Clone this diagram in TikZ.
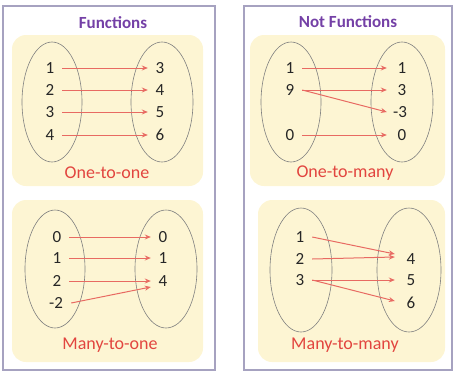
\documentclass[tikz,border=0pt]{standalone}
\usepackage{fontspec}
\setmainfont{Carlito}
\usepackage{xcolor}
\definecolor{cFrame}{HTML}{A6A2C0}
\definecolor{cPanel}{HTML}{FDF5D3}
\definecolor{cTitle}{HTML}{7440A6}
\definecolor{cLabel}{HTML}{E2453F}
\definecolor{cArrow}{HTML}{E86A62}
\definecolor{cSet}{HTML}{7F7F7F}
\definecolor{cNum}{HTML}{262626}
\usepackage{tikz}
\usetikzlibrary{arrows.meta,shapes.geometric}
\tikzset{
  frame-box/.style={draw=cFrame,line width=1.2pt},
  panel-box/.style={fill=cPanel,rounded corners=14pt},
  set-oval/.style={draw=cSet,line width=0.6pt,ellipse,inner sep=0pt},
  node-num/.style={text=cNum,minimum width=24pt,inner sep=0pt,
    font=\fontsize{17}{19}\selectfont},
  node-title/.style={text=cTitle,font=\fontsize{17}{20}\selectfont\bfseries},
  node-kind/.style={text=cLabel,font=\fontsize{18}{21}\selectfont},
  arrow/.style={-{Stealth[length=6pt,width=5pt]},line width=1pt,draw=cArrow},
}
\begin{document}
\begin{tikzpicture}[x=1pt,y=-1pt]
  \useasboundingbox (0,0) rectangle (454,372);
  % outer frames
  \draw[frame-box] (3,6) rectangle (215,370);
  \draw[frame-box] (244,6) rectangle (452,370);
  \node[node-title] (t-fun) at (113,23) {Functions};
  \node[node-title] (t-notfun) at (348,22) {Not Functions};
  % panels
  \fill[panel-box] (12,35) rectangle (203,186);
  \fill[panel-box] (12,200) rectangle (203,362);
  \fill[panel-box] (250,35) rectangle (445,186);
  \fill[panel-box] (258,200) rectangle (445,362);

  % one-to-one
  \node[set-oval,minimum width=60pt,minimum height=120pt] (oo-dom) at (52,102) {};
  \node[set-oval,minimum width=62pt,minimum height=120pt] (oo-rng) at (162,102) {};
  \node[node-num] (oo-a1) at (50,68)  {1};
  \node[node-num] (oo-a2) at (50,90)  {2};
  \node[node-num] (oo-a3) at (50,112) {3};
  \node[node-num] (oo-a4) at (50,135) {4};
  \node[node-num] (oo-b3) at (160,68)  {3};
  \node[node-num] (oo-b4) at (160,90)  {4};
  \node[node-num] (oo-b5) at (160,112) {5};
  \node[node-num] (oo-b6) at (160,135) {6};
  \draw[arrow] (oo-a1.east) -- (oo-b3.west);
  \draw[arrow] (oo-a2.east) -- (oo-b4.west);
  \draw[arrow] (oo-a3.east) -- (oo-b5.west);
  \draw[arrow] (oo-a4.east) -- (oo-b6.west);
  \node[node-kind] (oo-lbl) at (107,173) {One-to-one};

  % many-to-one
  \node[set-oval,minimum width=60pt,minimum height=118pt] (mo-dom) at (55,269) {};
  \node[set-oval,minimum width=62pt,minimum height=118pt] (mo-rng) at (166,269) {};
  \node[node-num] (mo-a0) at (57,237) {0};
  \node[node-num] (mo-a1) at (57,258) {1};
  \node[node-num] (mo-a2) at (57,281) {2};
  \node[node-num] (mo-am2) at (56,303) {-2};
  \node[node-num] (mo-b0) at (163,237) {0};
  \node[node-num] (mo-b1) at (163,258) {1};
  \node[node-num] (mo-b4) at (163,281) {4};
  \draw[arrow] (mo-a0.east) -- (mo-b0.west);
  \draw[arrow] (mo-a1.east) -- (mo-b1.west);
  \draw[arrow] (mo-a2.east) -- (mo-b4.west);
  \draw[arrow] ([xshift=3pt]mo-am2.east) -- ([yshift=-6pt]mo-b4.west);
  \node[node-kind] (mo-lbl) at (110,345) {Many-to-one};

  % one-to-many
  \node[set-oval,minimum width=60pt,minimum height=120pt] (om-dom) at (291,102) {};
  \node[set-oval,minimum width=62pt,minimum height=120pt] (om-rng) at (402,102) {};
  \node[node-num] (om-a1) at (290,68)  {1};
  \node[node-num] (om-a9) at (290,90)  {9};
  \node[node-num] (om-a0) at (290,135) {0};
  \node[node-num] (om-b1) at (402,68)  {1};
  \node[node-num] (om-b3) at (402,90)  {3};
  \node[node-num] (om-bm3) at (400,112) {-3};
  \node[node-num] (om-b0) at (402,135) {0};
  \draw[arrow] (om-a1.east) -- ([xshift=-3pt]om-b1.west);
  \draw[arrow] (om-a9.east) -- ([xshift=-3pt]om-b3.west);
  \draw[arrow] (om-a9.east) -- ([xshift=-1pt]om-bm3.west);
  \draw[arrow] (om-a0.east) -- ([xshift=-3pt]om-b0.west);
  \node[node-kind] (om-lbl) at (345,173) {One-to-many};

  % many-to-many
  \node[set-oval,minimum width=62pt,minimum height=124pt] (mm-dom) at (301,270) {};
  \node[set-oval,minimum width=64pt,minimum height=124pt] (mm-rng) at (409,270) {};
  \node[node-num] (mm-a1) at (300,237) {1};
  \node[node-num] (mm-a2) at (300,259) {2};
  \node[node-num] (mm-a3) at (300,280) {3};
  \node[node-num] (mm-b4) at (411,259) {4};
  \node[node-num] (mm-b5) at (411,280) {5};
  \node[node-num] (mm-b6) at (411,303) {6};
  \draw[arrow] (mm-a1.east) -- ([xshift=-4pt,yshift=5pt]mm-b4.west);
  \draw[arrow] (mm-a2.east) -- ([xshift=-4pt,yshift=2pt]mm-b4.west);
  \draw[arrow] (mm-a3.east) -- ([xshift=-4pt]mm-b5.west);
  \draw[arrow] (mm-a3.east) -- ([xshift=-4pt,yshift=2pt]mm-b6.west);
  \node[node-kind] (mm-lbl) at (345,345) {Many-to-many};
\end{tikzpicture}
\end{document}
